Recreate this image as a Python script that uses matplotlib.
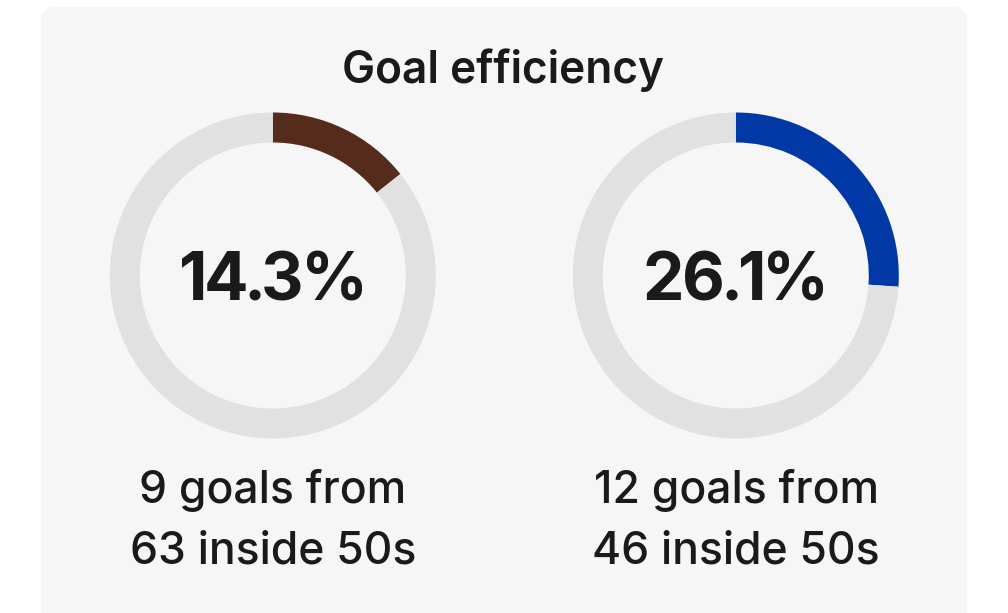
import matplotlib
matplotlib.use("Agg")
import matplotlib.pyplot as plt
from matplotlib.patches import FancyBboxPatch
from matplotlib.font_manager import FontProperties
from matplotlib.textpath import TextPath

# ---- data ----
title = "Goal efficiency"
pct = [14.3, 26.1]
goals = [9, 12]
inside50 = [63, 46]
colors = ["#552b1b", "#0039a6"]

# ---- layout (pixel coordinates, y measured from top) ----
W, H = 1008, 613
centers_x = [272, 735]
center_y = 275.5
R_out = 163
ring_w = 30
track = "#e1e1e1"
panel_col = "#f6f6f6"
txt = "#1a1a1a"
DPI = 100
PCT_SIZE = 47.5
GAP = 4.0        # px between glyph ink boxes (tight tracking)
GAP_PCT = 6.5    # px before the % sign

plt.rcParams["font.family"] = ["Inter", "DejaVu Sans"]

fig = plt.figure(figsize=(W / DPI, H / DPI), dpi=DPI)
fig.patch.set_facecolor("white")
ax = fig.add_axes([0, 0, 1, 1])


def Y(py):
    return H - py


def tight_text(cx, y, s, prop):
    k = DPI / 72.0
    inks = []
    for c in s:
        e = TextPath((0, 0), c, prop=prop).get_extents()
        inks.append((e.x0 * k, e.width * k))
    gaps = [GAP_PCT if c == "%" else GAP for c in s[1:]]
    total = sum(w for _, w in inks) + sum(gaps)
    left = cx - total / 2.0
    for j, (c, (x0, w)) in enumerate(zip(s, inks)):
        ax.text(left - x0, y, c, ha="left", va="baseline",
                fontproperties=prop, color=txt)
        if j < len(gaps):
            left += w + gaps[j]


prop_pct = FontProperties(family="Inter", weight="bold", size=PCT_SIZE)

for i in range(2):
    ax.pie([pct[i], 100 - pct[i]], colors=[colors[i], track],
           startangle=90, counterclock=False,
           center=(centers_x[i] + 0.8, Y(center_y)), radius=R_out,
           wedgeprops=dict(width=ring_w, linewidth=0))
    tight_text(centers_x[i], Y(300.5), f"{pct[i]:.1f}%", prop_pct)
    ax.text(centers_x[i] + 1, Y(503), f"{goals[i]} goals from", ha="center", va="baseline",
            fontsize=32, fontweight="medium", color=txt)
    ax.text(centers_x[i] + 1, Y(564), f"{inside50[i]} inside 50s", ha="center", va="baseline",
            fontsize=32, fontweight="medium", color=txt)

panel = FancyBboxPatch((41, Y(640)), 967 - 41, 640 - 7,
                       boxstyle="round,pad=0,rounding_size=15",
                       facecolor=panel_col, edgecolor="none", zorder=-10)
ax.add_patch(panel)

ax.text(503, Y(83), title, ha="center", va="baseline",
        fontsize=31.8, fontweight="semibold", color=txt)

ax.set_xlim(0, W)
ax.set_ylim(0, H)
ax.set_aspect("equal")
ax.axis("off")

fig.savefig("out.png", dpi=DPI, facecolor="white")
